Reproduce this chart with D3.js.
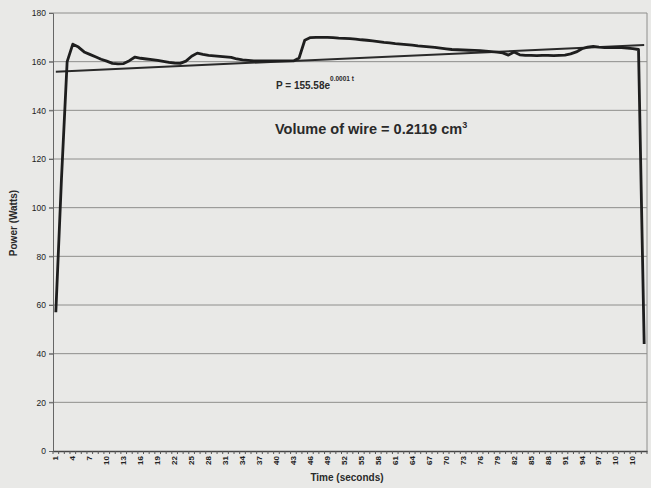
<!DOCTYPE html>
<html lang="en">
  <head>
    <meta charset="UTF-8" />
    <title>Power vs Time</title>
    <script src="https://cdn.jsdelivr.net/npm/d3@7"></script>
    <style>
      body { margin: 0; background: #e9e9e7; }
      svg { display: block; font-family: "Liberation Sans", Arial, sans-serif; }
      .grid line { stroke: #8e8e8c; stroke-width: 1; }
      .axis text { fill: #222; }
    </style>
  </head>
  <body>
    <svg id="chart" width="651" height="488"></svg>

    <script>
      // time index (seconds), one reading each
      var categories = d3.range(1, 106);

      // measured power, watts
      var power = [
        57, 112, 160, 167.2, 166, 164, 163, 162, 161, 160.2,
        159.3, 159.1, 159.2, 160.4, 161.9, 161.4, 161.1, 160.8, 160.5, 160.1,
        159.7, 159.4, 159.3, 160.2, 162.2, 163.5, 163.0, 162.6, 162.4, 162.2,
        162.0, 161.8, 161.1, 160.7, 160.5, 160.3, 160.3, 160.3, 160.3, 160.3,
        160.3, 160.3, 160.3, 161.5, 168.8, 169.9, 170.0, 170.0, 170.0, 169.9,
        169.7, 169.6, 169.5, 169.3, 169.0, 168.8, 168.5, 168.2, 167.9, 167.7,
        167.4, 167.2, 167.0, 166.8, 166.5, 166.3, 166.1, 165.9, 165.6, 165.3,
        165.0, 164.9, 164.8, 164.7, 164.6, 164.5, 164.3, 164.1, 163.9, 163.6,
        162.7, 164.0, 162.8, 162.6, 162.6, 162.5, 162.6, 162.6, 162.5, 162.6,
        162.7, 163.2, 164.0, 165.3, 166.0, 166.3, 166.0, 165.8, 165.8, 165.8,
        165.8, 165.6, 165.4, 165.0, 44
      ];

      // exponential trend line, ends
      var trendCats = [1, 105];
      var trendPower = [155.9, 166.8];

      var yTicks = [0, 20, 40, 60, 80, 100, 120, 140, 160, 180];
      var xTickCats = categories.filter(function(d) { return (d - 1) % 3 === 0; });

      var margin = {top: 13, right: 4, bottom: 37, left: 53};
      var width = 651 - margin.left - margin.right;
      var height = 488 - margin.top - margin.bottom;

      var svg = d3.select("#chart");
      var g = svg.append("g")
        .attr("transform", "translate(" + margin.left + "," + margin.top + ")");

      var xScale = d3.scaleBand()
        .domain(categories)
        .range([0, width]);

      var yScale = d3.scaleLinear()
        .domain([0, 180])
        .range([height, 0]);

      function cx(c) { return xScale(c) + xScale.bandwidth() / 2; }

      // gridlines
      g.append("g")
        .attr("class", "grid")
        .selectAll("line")
        .data(yTicks.filter(function(d) { return d > 0; }))
        .enter()
        .append("line")
        .attr("x1", -4)
        .attr("x2", width)
        .attr("y1", function(d) { return yScale(d); })
        .attr("y2", function(d) { return yScale(d); });

      // right border of plot
      g.append("line")
        .attr("x1", width).attr("x2", width)
        .attr("y1", 0).attr("y2", height)
        .attr("stroke", "#8e8e8c");

      // y axis
      var yAxis = d3.axisLeft(yScale)
        .tickValues(yTicks)
        .tickSize(4)
        .tickPadding(3);

      g.append("g")
        .attr("class", "axis y-axis")
        .call(yAxis)
        .call(function(a) {
          a.select(".domain").attr("stroke", "#666");
          a.selectAll(".tick line").attr("stroke", "#666");
          a.selectAll("text").attr("font-size", 8.5);
        });

      // x axis: labels every third reading, tick at every band edge
      var xAxis = d3.axisBottom(xScale)
        .tickValues(xTickCats)
        .tickSize(0)
        .tickFormat(function(d) { return String(d).slice(0, 2); });

      var xg = g.append("g")
        .attr("class", "axis x-axis")
        .attr("transform", "translate(0," + height + ")")
        .call(xAxis);

      xg.select(".domain").attr("stroke", "#444").attr("stroke-width", 1.5);
      xg.selectAll("text")
        .attr("font-size", 8)
        .attr("font-weight", "bold")
        .attr("text-anchor", "end")
        .attr("transform", "rotate(-90)")
        .attr("x", -5)
        .attr("y", 0)
        .attr("dy", "0.32em");

      xg.selectAll(".band-tick")
        .data(categories.concat([null]))
        .enter()
        .append("line")
        .attr("class", "band-tick")
        .attr("x1", function(d) { return d === null ? width : xScale(d); })
        .attr("x2", function(d) { return d === null ? width : xScale(d); })
        .attr("y1", 0)
        .attr("y2", 3)
        .attr("stroke", "#555");

      // trend line
      g.append("line")
        .attr("x1", cx(trendCats[0]))
        .attr("y1", yScale(trendPower[0]))
        .attr("x2", cx(trendCats[1]))
        .attr("y2", yScale(trendPower[1]))
        .attr("stroke", "#2a2a2a")
        .attr("stroke-width", 2);

      // power line
      var line = d3.line()
        .x(function(d, i) { return cx(categories[i]); })
        .y(function(d) { return yScale(d); });

      g.append("path")
        .datum(power)
        .attr("fill", "none")
        .attr("stroke", "#1e1e1e")
        .attr("stroke-width", 2.8)
        .attr("stroke-linejoin", "round")
        .attr("d", line);

      // annotations
      var eq = svg.append("text")
        .attr("x", 276)
        .attr("y", 89)
        .attr("font-size", 10)
        .attr("font-weight", "bold")
        .attr("fill", "#2a2a2a");
      eq.append("tspan").text("P = 155.58e");
      eq.append("tspan")
        .attr("font-size", 6.5)
        .attr("dy", -8)
        .text("0.0001 t");

      var vol = svg.append("text")
        .attr("x", 275)
        .attr("y", 134)
        .attr("font-size", 14.5)
        .attr("font-weight", "bold")
        .attr("fill", "#2a2a2a");
      vol.append("tspan").text("Volume of wire = 0.2119 cm");
      vol.append("tspan")
        .attr("font-size", 9)
        .attr("dy", -6)
        .text("3");

      // axis titles
      svg.append("text")
        .attr("transform", "translate(17,223) rotate(-90)")
        .attr("text-anchor", "middle")
        .attr("font-size", 10)
        .attr("font-weight", "bold")
        .attr("fill", "#2a2a2a")
        .text("Power (Watts)");

      svg.append("text")
        .attr("x", 347)
        .attr("y", 481)
        .attr("text-anchor", "middle")
        .attr("font-size", 10)
        .attr("font-weight", "bold")
        .attr("fill", "#2a2a2a")
        .text("Time (seconds)");
    </script>
  </body>
</html>
